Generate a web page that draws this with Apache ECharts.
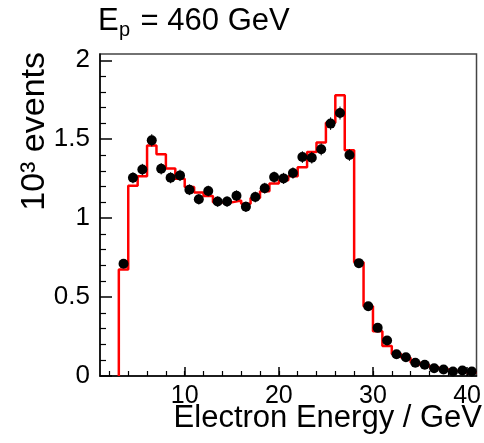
<!DOCTYPE html>
<html>
<head>
<meta charset="utf-8">
<script src="https://cdn.jsdelivr.net/npm/echarts@6/dist/echarts.min.js"></script>
<style>
  html, body { margin: 0; padding: 0; background: #fff; }
  #chart { width: 484px; height: 443px; }
</style>
</head>
<body>
<div id="chart"></div>
<script>
// Monte Carlo histogram: lower bin edges (GeV) and contents (10^3 events)
const mcLowEdges = [3,4,5,6,7,8,9,10,11,12,13,14,15,16,17,18,19,20,21,22,23,24,25,26,27,28,29,30,31,32,33,34,35,36,37,38,39,40];
const mcBinWidth = 1;
const mcValues = [0.675,1.205,1.265,1.46,1.405,1.315,1.25,1.197,1.162,1.14,1.10,1.10,1.112,1.092,1.128,1.17,1.22,1.24,1.265,1.322,1.419,1.48,1.605,1.778,1.43,0.72,0.442,0.284,0.19,0.14,0.115,0.085,0.068,0.055,0.042,0.032,0.025,0.02];

// Measured data: bin centres (GeV), contents and statistical errors (10^3 events)
const dataCenters = [3.5,4.5,5.5,6.5,7.5,8.5,9.5,10.5,11.5,12.5,13.5,14.5,15.5,16.5,17.5,18.5,19.5,20.5,21.5,22.5,23.5,24.5,25.5,26.5,27.5,28.5,29.5,30.5,31.5,32.5,33.5,34.5,35.5,36.5,37.5,38.5,39.5,40.5];
const dataValues = [0.711,1.256,1.308,1.493,1.313,1.256,1.271,1.18,1.12,1.172,1.105,1.105,1.142,1.072,1.134,1.19,1.26,1.252,1.286,1.387,1.383,1.436,1.599,1.666,1.40,0.715,0.442,0.305,0.225,0.138,0.119,0.084,0.071,0.049,0.041,0.029,0.035,0.029];
const dataErrors = [0.027,0.035,0.036,0.039,0.036,0.035,0.036,0.034,0.033,0.034,0.033,0.033,0.034,0.033,0.034,0.034,0.035,0.035,0.036,0.037,0.037,0.038,0.040,0.041,0.037,0.027,0.021,0.017,0.015,0.012,0.011,0.009,0.008,0.007,0.006,0.005,0.006,0.005];

// Axis ticks and labels
const xMajorTicks = [10,20,30,40];
const xMinorTicks = [2,4,6,8,10,12,14,16,18,20,22,24,26,28,30,32,34,36,38,40];
const yMajorTicks = [0,0.5,1,1.5,2];
const yMinorTicks = [0.1,0.2,0.3,0.4,0.6,0.7,0.8,0.9,1.1,1.2,1.3,1.4,1.6,1.7,1.8,1.9];
const xRange = [1, 41];
const yRange = [0, 2.04];

// Step outline of the histogram built from its bins
const mcOutline = [[mcLowEdges[0], 0]];
mcLowEdges.forEach((lo, i) => {
  mcOutline.push([lo, mcValues[i]]);
  mcOutline.push([lo + mcBinWidth, mcValues[i]]);
});

const points = dataCenters.map((x, i) => [x, dataValues[i]]);
const errBars = dataCenters.map((x, i) => [x, dataValues[i] - dataErrors[i], dataValues[i] + dataErrors[i]]);

const FONT = '"Liberation Sans", Arial, Helvetica, sans-serif';

const chart = echarts.init(document.getElementById('chart'), null, { renderer: 'canvas' });

const xAxisBase = {
  type: 'value', min: xRange[0], max: xRange[1],
  splitLine: { show: false }, position: 'bottom'
};
const yAxisBase = {
  type: 'value', min: yRange[0], max: yRange[1],
  splitLine: { show: false }, position: 'left'
};

chart.setOption({
  animation: false,
  backgroundColor: '#fff',
  grid: {
    left: 100, right: 2, top: 54, bottom: 67,
    show: true, borderColor: '#444', borderWidth: 1.5, backgroundColor: 'transparent'
  },
  xAxis: [
    Object.assign({}, xAxisBase, {
      axisLine: { show: true, onZero: false, lineStyle: { color: '#000', width: 1.5 } },
      axisTick: { show: true, inside: true, length: 9, customValues: xMajorTicks, lineStyle: { color: '#000', width: 1.5 } },
      axisLabel: { show: true, customValues: xMajorTicks, margin: 8, color: '#000', fontSize: 25, fontFamily: FONT }
    }),
    Object.assign({}, xAxisBase, {
      axisLine: { show: false },
      axisTick: { show: true, inside: true, length: 5, customValues: xMinorTicks, lineStyle: { color: '#000', width: 1.2 } },
      axisLabel: { show: false }
    })
  ],
  yAxis: [
    Object.assign({}, yAxisBase, {
      axisLine: { show: true, onZero: false, lineStyle: { color: '#000', width: 1.5 } },
      axisTick: { show: true, inside: true, length: 12, customValues: yMajorTicks, lineStyle: { color: '#000', width: 1.5 } },
      axisLabel: { show: true, customValues: yMajorTicks, margin: 10, color: '#000', fontSize: 26, fontFamily: FONT }
    }),
    Object.assign({}, yAxisBase, {
      axisLine: { show: false },
      axisTick: { show: true, inside: true, length: 6, customValues: yMinorTicks, lineStyle: { color: '#000', width: 1.2 } },
      axisLabel: { show: false }
    })
  ],
  series: [
    {
      name: 'MC',
      type: 'line',
      xAxisIndex: 0, yAxisIndex: 0,
      data: mcOutline,
      showSymbol: false,
      lineStyle: { color: '#ff0000', width: 2.5 },
      z: 2
    },
    {
      name: 'data errors',
      type: 'custom',
      xAxisIndex: 0, yAxisIndex: 0,
      data: errBars,
      renderItem: function (params, api) {
        const lo = api.coord([api.value(0), api.value(1)]);
        const hi = api.coord([api.value(0), api.value(2)]);
        return {
          type: 'line',
          shape: { x1: lo[0], y1: lo[1], x2: hi[0], y2: hi[1] },
          style: { stroke: '#000', lineWidth: 1 }
        };
      },
      z: 3
    },
    {
      name: 'data',
      type: 'scatter',
      xAxisIndex: 0, yAxisIndex: 0,
      data: points,
      symbol: 'circle',
      symbolSize: 10,
      itemStyle: { color: '#000', opacity: 1 },
      z: 4
    }
  ],
  graphic: [
    {
      type: 'group', left: 98, top: 6,
      children: [
        { type: 'text', x: 0, y: 0, style: { text: 'E', font: '31px ' + FONT, fill: '#000' } },
        { type: 'text', x: 21, y: 14, style: { text: 'p', font: '20px ' + FONT, fill: '#000' } },
        { type: 'text', x: 34, y: 0, style: { text: ' = 460 GeV', font: '31px ' + FONT, fill: '#000' } }
      ]
    },
    {
      type: 'text', x: 482, y: 418,
      style: { text: 'Electron Energy / GeV', font: '31px ' + FONT, fill: '#000', align: 'right', verticalAlign: 'middle' }
    },
    {
      type: 'text', x: 35, y: 52, rotation: Math.PI / 2,
      style: { text: '10³ events', font: '34px ' + FONT, fill: '#000', align: 'right', verticalAlign: 'middle' }
    }
  ]
});
</script>
</body>
</html>
